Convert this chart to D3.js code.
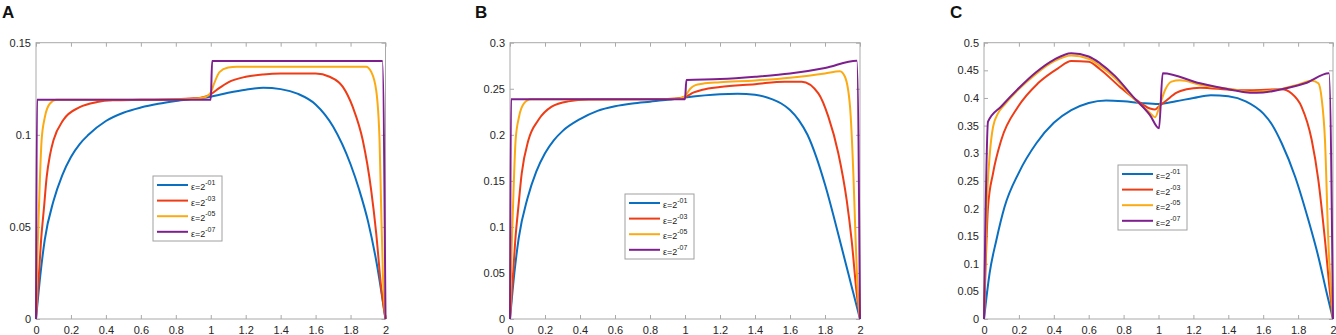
<!DOCTYPE html>
<html>
<head>
<meta charset="utf-8">
<script src="https://cdn.jsdelivr.net/npm/d3@7"></script>
<style>
  body { margin: 0; background: #fff; }
  svg { display: block; font-family: "Liberation Sans", Arial, Helvetica, sans-serif; }
</style>
</head>
<body>
<svg width="1336" height="335"></svg>
<script>
// series labels and colours (MATLAB default order)
const seriesNames = ["-01", "-03", "-05", "-07"];
const seriesColors = ["#0a6fc0", "#ee3d16", "#fcaa12", "#7e1f8e"];

const xTicks = [0, 0.2, 0.4, 0.6, 0.8, 1, 1.2, 1.4, 1.6, 1.8, 2];
const xTickLabels = ["0", "0.2", "0.4", "0.6", "0.8", "1", "1.2", "1.4", "1.6", "1.8", "2"];

const yTicksA = [0, 0.05, 0.1, 0.15];
const yLabelsA = ["0", "0.05", "0.1", "0.15"];
const yTicksB = [0, 0.05, 0.1, 0.15, 0.2, 0.25, 0.3];
const yLabelsB = ["0", "0.05", "0.1", "0.15", "0.2", "0.25", "0.3"];
const yTicksC = [0, 0.05, 0.1, 0.15, 0.2, 0.25, 0.3, 0.35, 0.4, 0.45, 0.5];
const yLabelsC = ["0", "0.05", "0.1", "0.15", "0.2", "0.25", "0.3", "0.35", "0.4", "0.45", "0.5"];

// panel A  [x, u]
const aBlue = [[0,0],[0.025,0.024],[0.05,0.043],[0.1,0.064],[0.15,0.078],[0.2,0.088],[0.25,0.095],[0.3,0.1],[0.4,0.1075],[0.5,0.112],[0.6,0.1148],[0.7,0.1168],[0.8,0.1183],[0.9,0.1195],[1.0,0.1207],[1.1,0.1228],[1.2,0.1245],[1.3,0.1255],[1.4,0.1248],[1.5,0.1222],[1.6,0.1165],[1.7,0.1045],[1.8,0.084],[1.85,0.07],[1.9,0.053],[1.95,0.03],[2,0]];
const aRed = [[0,0],[0.017,0.0245],[0.029,0.0426],[0.046,0.0607],[0.061,0.077],[0.08,0.089],[0.1,0.097],[0.156,0.108],[0.25,0.115],[0.35,0.1178],[0.44,0.1187],[0.6,0.119],[0.8,0.1193],[0.9,0.1198],[0.95,0.1203],[1.0,0.122],[1.05,0.1255],[1.1,0.1285],[1.2,0.1315],[1.3,0.1328],[1.4,0.1333],[1.6,0.1333],[1.68,0.1315],[1.756,0.126],[1.813,0.115],[1.87,0.097],[1.918,0.07],[1.947,0.0464],[1.975,0.0173],[2,0]];
const aOrange = [[0,0],[0.01,0.04],[0.017,0.0607],[0.032,0.097],[0.051,0.1097],[0.08,0.117],[0.118,0.119],[0.5,0.119],[0.9,0.1195],[0.97,0.1205],[1.0,0.123],[1.02,0.128],[1.05,0.134],[1.1,0.1365],[1.15,0.137],[1.889,0.137],[1.918,0.1342],[1.947,0.124],[1.966,0.097],[1.975,0.061],[1.985,0.025],[2,0]];
const aPurple = [[0,0],[0.006,0.119],[1.0,0.119],[1.008,0.14],[1.982,0.14],[2,0]];

// panel B
const bBlue = [[0,0],[0.025,0.05],[0.05,0.088],[0.1,0.131],[0.15,0.16],[0.2,0.18],[0.25,0.194],[0.3,0.204],[0.4,0.217],[0.5,0.226],[0.6,0.231],[0.7,0.234],[0.8,0.236],[0.9,0.238],[1.0,0.2405],[1.2,0.244],[1.3,0.2445],[1.4,0.2435],[1.5,0.2385],[1.55,0.234],[1.6,0.227],[1.65,0.216],[1.7,0.2],[1.75,0.176],[1.8,0.146],[1.9,0.074],[1.95,0.037],[2,0]];
const bRed = [[0,0],[0.018,0.05],[0.03,0.085],[0.048,0.122],[0.067,0.158],[0.105,0.194],[0.162,0.216],[0.238,0.2305],[0.333,0.2363],[0.45,0.2382],[0.7,0.2385],[0.9,0.2388],[0.95,0.2393],[1.0,0.241],[1.05,0.246],[1.1,0.249],[1.2,0.252],[1.4,0.255],[1.571,0.2577],[1.667,0.2577],[1.762,0.245],[1.819,0.2197],[1.876,0.18],[1.924,0.129],[1.952,0.086],[1.981,0.028],[2,0]];
const bOrange = [[0,0],[0.01,0.08],[0.017,0.121],[0.032,0.194],[0.051,0.219],[0.08,0.234],[0.118,0.2385],[0.5,0.2385],[0.9,0.239],[0.97,0.2395],[1.0,0.242],[1.03,0.25],[1.06,0.254],[1.1,0.2555],[1.2,0.257],[1.4,0.259],[1.6,0.262],[1.8,0.2665],[1.885,0.269],[1.914,0.263],[1.943,0.2305],[1.962,0.158],[1.975,0.086],[1.987,0.031],[2,0]];
const bPurple = [[0,0],[0.006,0.2385],[1.0,0.2385],[1.008,0.2595],[1.2,0.2605],[1.4,0.263],[1.6,0.2665],[1.8,0.2725],[1.982,0.2805],[2,0]];

// panel C
const cBlue = [[0,0],[0.032,0.0827],[0.071,0.143],[0.118,0.203],[0.2,0.265],[0.3,0.318],[0.4,0.355],[0.5,0.378],[0.6,0.391],[0.7,0.3955],[0.8,0.394],[0.9,0.391],[1.0,0.389],[1.1,0.394],[1.2,0.4],[1.3,0.405],[1.4,0.403],[1.5,0.394],[1.6,0.372],[1.65,0.352],[1.706,0.318],[1.783,0.2575],[1.859,0.179],[1.916,0.1128],[1.964,0.047],[2,0]];
const cRed = [[0,0],[0.008,0.0827],[0.023,0.203],[0.052,0.264],[0.099,0.324],[0.195,0.384],[0.309,0.4265],[0.424,0.4537],[0.5,0.4668],[0.6,0.4656],[0.665,0.452],[0.779,0.42],[0.874,0.396],[0.951,0.381],[0.98,0.379],[1.0,0.384],[1.047,0.396],[1.104,0.4096],[1.161,0.4156],[1.238,0.4186],[1.429,0.4144],[1.524,0.414],[1.706,0.4156],[1.763,0.408],[1.82,0.384],[1.878,0.324],[1.916,0.2515],[1.954,0.143],[1.983,0.0465],[2,0]];
const cOrange = [[0,0],[0.0155,0.203],[0.032,0.2937],[0.052,0.348],[0.08,0.372],[0.118,0.388],[0.2,0.416],[0.3,0.444],[0.4,0.466],[0.5,0.477],[0.6,0.471],[0.665,0.458],[0.75,0.436],[0.855,0.4],[0.951,0.373],[0.98,0.365],[1.005,0.384],[1.037,0.414],[1.075,0.4295],[1.123,0.432],[1.238,0.424],[1.429,0.4156],[1.524,0.411],[1.6,0.412],[1.7,0.416],[1.8,0.424],[1.878,0.4313],[1.916,0.4265],[1.935,0.399],[1.954,0.324],[1.973,0.143],[2,0]];
const cPurple = [[0,0],[0.023,0.357],[0.1,0.385],[0.2,0.418],[0.3,0.447],[0.4,0.469],[0.5,0.481],[0.6,0.475],[0.665,0.4627],[0.75,0.44],[0.855,0.402],[0.951,0.369],[1.003,0.345],[1.024,0.4446],[1.238,0.4265],[1.429,0.414],[1.524,0.4096],[1.6,0.41],[1.706,0.4156],[1.84,0.4265],[1.977,0.4446],[2,0]];

const panels = [
  { label: "A", lx: 2, left: 36, right: 385.5, ymax: 0.15, yTicks: yTicksA, yLabels: yLabelsA,
    series: [aBlue, aRed, aOrange, aPurple], legend: [153, 176] },
  { label: "B", lx: 475, left: 510, right: 860, ymax: 0.3, yTicks: yTicksB, yLabels: yLabelsB,
    series: [bBlue, bRed, bOrange, bPurple], legend: [625, 194] },
  { label: "C", lx: 950, left: 984, right: 1333, ymax: 0.5, yTicks: yTicksC, yLabels: yLabelsC,
    series: [cBlue, cRed, cOrange, cPurple], legend: [1118, 165] }
];

const plotTop = 42.7, plotBottom = 319;
const axisGrey = "#a9a9a9";
const textCol = "#262626";

const svg = d3.select("svg");

panels.forEach(p => {
  const x = d3.scaleLinear().domain([0, 2]).range([p.left, p.right]);
  const y = d3.scaleLinear().domain([0, p.ymax]).range([plotBottom, plotTop]);
  const g = svg.append("g");

  g.append("text")
    .attr("x", p.lx)
    .attr("y", 18)
    .attr("font-size", 17)
    .attr("font-weight", "bold")
    .attr("fill", "#111")
    .text(p.label);

  g.append("rect")
    .attr("x", p.left)
    .attr("y", plotTop)
    .attr("width", p.right - p.left)
    .attr("height", plotBottom - plotTop)
    .attr("fill", "#fff")
    .attr("stroke", axisGrey)
    .attr("stroke-width", 1);

  // inward ticks on all four sides
  const bx = g.append("g").attr("transform", `translate(0,${plotBottom})`)
    .call(d3.axisBottom(x).tickValues(xTicks).tickSize(-4).tickPadding(8)
      .tickFormat((d, i) => xTickLabels[i]));
  const tx = g.append("g").attr("transform", `translate(0,${plotTop})`)
    .call(d3.axisTop(x).tickValues(xTicks).tickSize(-4).tickFormat(""));
  const ly = g.append("g").attr("transform", `translate(${p.left},0)`)
    .call(d3.axisLeft(y).tickValues(p.yTicks).tickSize(-4).tickPadding(5)
      .tickFormat((d, i) => p.yLabels[i]));
  const ry = g.append("g").attr("transform", `translate(${p.right},0)`)
    .call(d3.axisRight(y).tickValues(p.yTicks).tickSize(-4).tickFormat(""));

  [bx, tx, ly, ry].forEach(a => {
    a.select(".domain").remove();
    a.selectAll("line").attr("stroke", axisGrey);
    a.selectAll("text").attr("fill", textCol).attr("font-size", 11)
      .attr("font-family", "Liberation Sans, Arial, sans-serif");
  });
  // baseline kept just inside the bottom edge
  bx.selectAll("text").attr("dy", "0.71em").attr("y", 7);

  const line = d3.line()
    .x(d => x(d[0]))
    .y(d => y(d[1]))
    .curve(d3.curveMonotoneX);

  p.series.forEach((s, i) => {
    g.append("path")
      .datum(s)
      .attr("fill", "none")
      .attr("stroke", seriesColors[i])
      .attr("stroke-width", 2)
      .attr("stroke-linejoin", "round")
      .attr("d", line);
  });

  // legend
  const [lgx, lgy] = p.legend;
  const lg = g.append("g").attr("transform", `translate(${lgx},${lgy})`);
  lg.append("rect")
    .attr("width", 69)
    .attr("height", 65)
    .attr("fill", "#fff")
    .attr("stroke", "#a0a0a0")
    .attr("stroke-width", 1);
  seriesNames.forEach((name, i) => {
    const yy = 9 + i * 15.6;
    lg.append("line")
      .attr("x1", 4).attr("x2", 35)
      .attr("y1", yy).attr("y2", yy)
      .attr("stroke", seriesColors[i])
      .attr("stroke-width", 2);
    const t = lg.append("text")
      .attr("x", 38)
      .attr("y", yy + 5)
      .attr("font-size", 9)
      .attr("fill", "#222");
    t.append("tspan").text("ε=2");
    t.append("tspan")
      .attr("font-size", 7)
      .attr("dy", -5)
      .text(name);
  });
});
</script>
</body>
</html>
